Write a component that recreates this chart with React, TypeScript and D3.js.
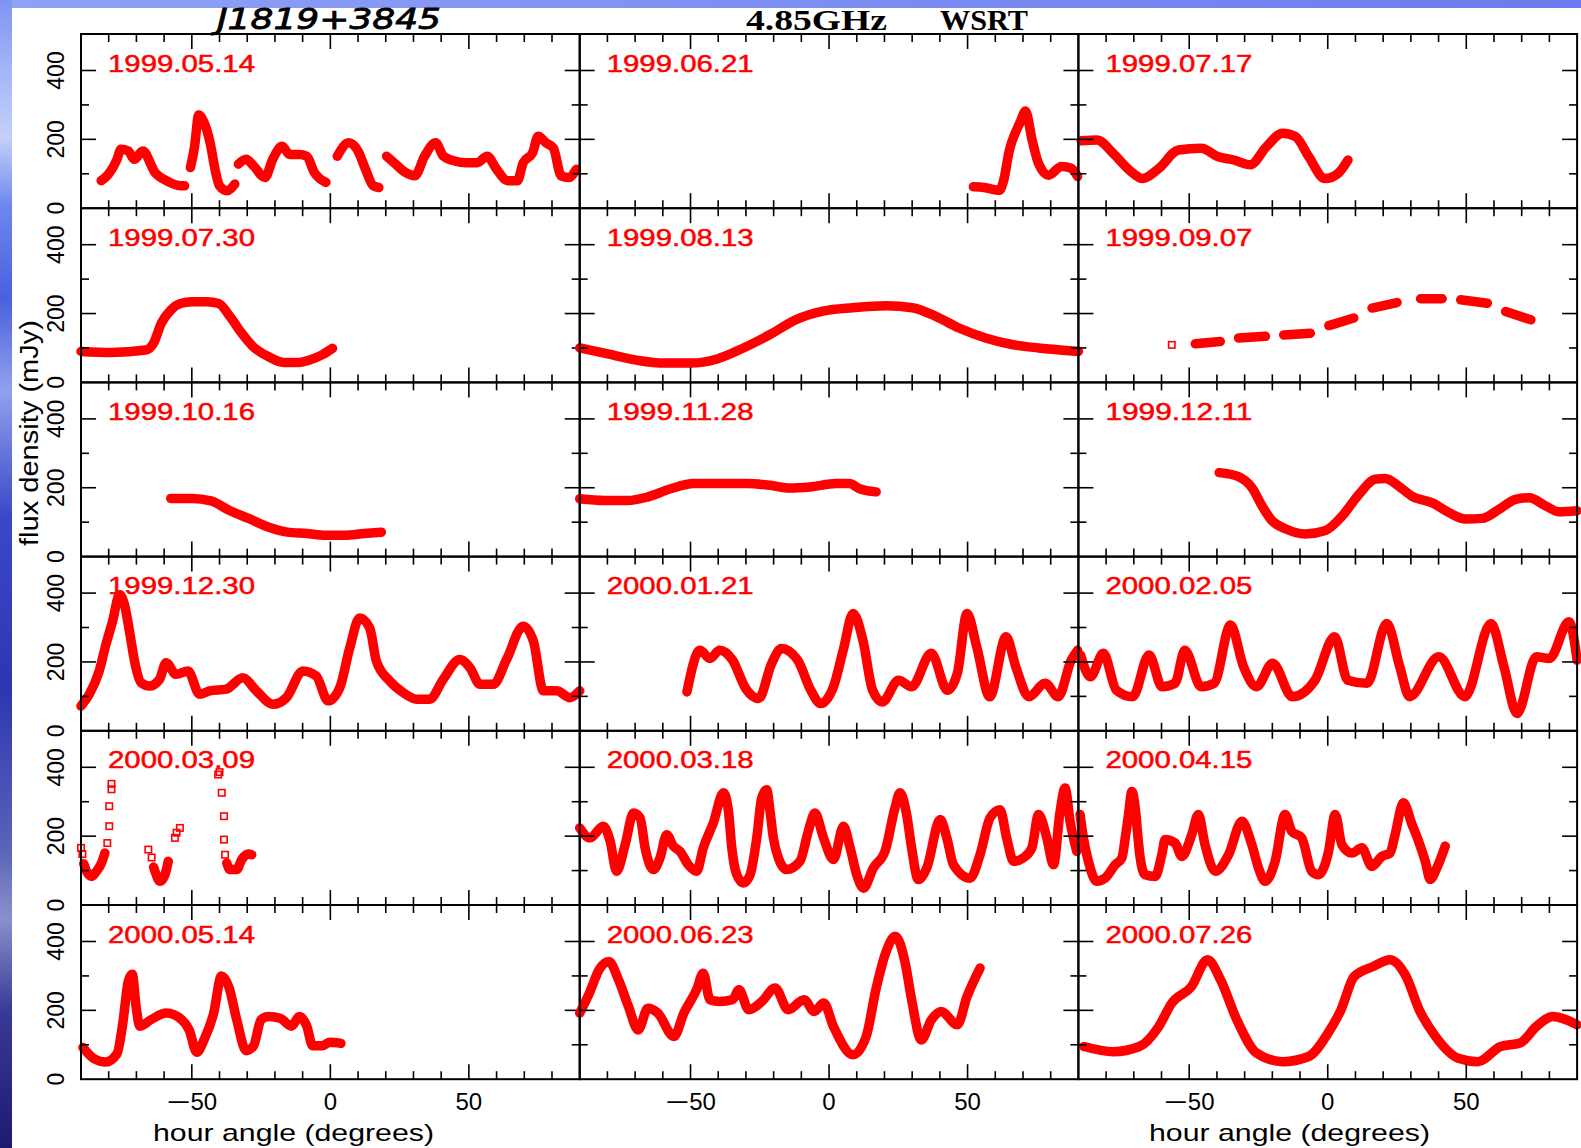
import React from 'react'
import * as d3 from 'd3'

// one point = [hour angle (deg), flux density (mJy)], null = gap in the track
type Pt = [number, number] | null

const DATES = [
  '1999.05.14', '1999.06.21', '1999.07.17',
  '1999.07.30', '1999.08.13', '1999.09.07',
  '1999.10.16', '1999.11.28', '1999.12.11',
  '1999.12.30', '2000.01.21', '2000.02.05',
  '2000.03.09', '2000.03.18', '2000.04.15',
  '2000.05.14', '2000.06.23', '2000.07.26',
]

const D_19990514: Pt[] = [
  [-82.7, 80], [-80, 100], [-77, 142], [-75.6, 171], [-72.9, 166], [-70.8, 142], [-67.7, 166], [-63.3, 104],
  [-59.2, 80], [-53.7, 65], [-52.6, 65], null,
  [-50.5, 118], [-49, 180], [-47.5, 271], [-45.5, 247], [-43.4, 190], [-41.4, 104], [-40, 65], [-37.3, 51], [-34.5, 70], null,
  [-33.2, 128], [-30.4, 142], [-27.7, 123], [-23.6, 89], [-20.8, 142], [-17.4, 180], [-14.7, 156], [-11.2, 156],
  [-8.5, 151], [-5.8, 104], [-1.6, 75], null,
  [2.5, 151], [6.6, 190], [10, 166], [12.7, 113], [15.5, 65], [17.5, 60], null,
  [20.3, 151], [23, 132], [27.1, 104], [30.5, 94], [34, 151], [38, 190], [40.8, 151], [44.9, 137], [49, 132],
  [53, 132], [56.6, 151], [60, 113], [64, 80], [67.5, 80], [69.6, 132], [73, 161], [75, 209], [77.8, 190],
  [80.5, 175], [83.3, 94], [86, 89], [88.8, 113],
]
const D_19990621: Pt[] = [
  [52.1, 62], [56, 60], [61.5, 52], [63, 80], [65.1, 169], [67.4, 222], [69, 250], [70.9, 282], [73.3, 198],
  [75.6, 130], [79.2, 96], [83.9, 121], [87.4, 116], [89.7, 92],
]
const D_19990717: Pt[] = [
  [-89, 196], [-83.3, 198], [-77.4, 159], [-71.5, 110], [-66.8, 86], [-60.9, 116], [-53.9, 169], [-45.6, 174],
  [-39.8, 150], [-33.9, 140], [-28, 126], [-22.1, 179], [-16.3, 218], [-11.6, 208], [-6.9, 150], [-1, 86],
  [3.7, 101], [7.3, 140],
]
const D_19990730: Pt[] = [
  [-90, 90], [-79, 87], [-66.6, 94], [-63.8, 114], [-61, 172], [-57.6, 210], [-54.1, 229], [-50, 234],
  [-44.5, 234], [-40.3, 229], [-36.2, 191], [-32, 143], [-27.9, 104], [-22.4, 75], [-16.9, 58], [-11.3, 58],
  [-7.2, 66], [-3, 80], [0.8, 99],
]
const D_19990813: Pt[] = [
  [-90, 100], [-81.1, 85], [-69.1, 64], [-59.6, 56], [-50, 56], [-40.4, 68], [-30.9, 100], [-21.3, 139],
  [-11.7, 183], [-2.2, 207], [8.6, 217], [20.6, 223], [30.1, 217], [38.5, 192], [46.9, 158], [56.5, 129],
  [66, 110], [75.6, 100], [90, 90],
]
const D_19990907: Pt[] = [
  [-47.8, 112], [-38.8, 119], null, [-32.2, 129], [-22.5, 134], null, [-15.9, 138], [-6.3, 143], null,
  [0.4, 165], [9.4, 187], null, [16, 216], [25, 232], null, [33.5, 243], [41.3, 243], null,
  [48, 240], [57.6, 230], null, [64.2, 206], [73.3, 182],
]
const D_19991016: Pt[] = [
  [-57.6, 169], [-50, 169], [-43.1, 162], [-36.2, 133], [-29.3, 110], [-22.4, 86], [-15.5, 71], [-8.6, 67],
  [-1.7, 62], [5.2, 62], [12.2, 67], [18.4, 71],
]
const D_19991128: Pt[] = [
  [-90, 168], [-81.1, 163], [-72.7, 163], [-65.6, 173], [-57.2, 197], [-48.8, 212], [-39.2, 212], [-29.7, 212],
  [-21.3, 207], [-14.1, 199], [-6.9, 202], [2.6, 212], [7.4, 212], [11, 197], [17, 188],
]
const D_19991211: Pt[] = [
  [-39.2, 244], [-32.2, 232], [-27.3, 199], [-23.7, 147], [-20.1, 104], [-15.3, 81], [-8.1, 66], [-0.8, 76],
  [5.2, 118], [11.2, 180], [17.2, 225], [20.8, 227], [25.7, 204], [30.5, 175], [37.7, 156], [43.7, 128],
  [49.8, 109], [55.8, 111], [61.8, 137], [67.8, 166], [72.7, 171], [78.7, 147], [83.5, 130], [90, 133],
]
const D_19991230: Pt[] = [
  [-90, 72], [-87, 106], [-83.4, 174], [-81, 251], [-78.6, 318], [-76.1, 395], [-74.3, 366], [-72.5, 289],
  [-70.7, 203], [-68.3, 140], [-65.3, 130], [-61.7, 149], [-59.3, 198], [-55.7, 164], [-51.4, 174], [-47.2, 106],
  [-43.6, 116], [-37.6, 121], [-31.6, 154], [-26.7, 116], [-20.7, 77], [-15.9, 96], [-9.9, 174], [-5.1, 159],
  [-0.8, 87], [3.4, 125], [7, 241], [10.6, 328], [14.2, 299], [16.6, 203], [21.4, 145], [26.3, 111],
  [31.1, 92], [35.9, 92], [40.7, 149], [46.7, 207], [50.4, 183], [54, 135], [58.8, 135], [63.6, 207],
  [69.6, 304], [73.3, 260], [76.9, 116], [81.7, 116], [86.5, 96], [90, 116],
]
const D_20000121: Pt[] = [
  [-51.3, 113], [-46.6, 234], [-43, 210], [-39.5, 234], [-34.8, 205], [-30.1, 123], [-25.4, 94], [-20.7, 196],
  [-17.2, 239], [-11.3, 205], [-6.6, 118], [-3.1, 79], [1.6, 128], [5.1, 234], [8.7, 341], [12.2, 264],
  [15.7, 118], [19.2, 84], [25.1, 147], [29.8, 128], [36.9, 225], [42.7, 118], [46.3, 167], [49.8, 341],
  [53.3, 244], [58, 99], [63.9, 273], [67.4, 186], [72.1, 99], [78, 138], [82.7, 99], [87.4, 205], [89.7, 234],
]
const D_20000205: Pt[] = [
  [-89.2, 220], [-85.7, 157], [-81, 225], [-76.3, 118], [-70.4, 99], [-64.5, 220], [-59.8, 128], [-55.1, 138],
  [-51.6, 234], [-45.7, 128], [-41, 138], [-35.1, 307], [-30.4, 186], [-25.7, 128], [-19.9, 196], [-12.8, 99],
  [-4.6, 147], [2.5, 273], [7.2, 147], [14.2, 138], [21.3, 312], [26, 186], [29.5, 99], [40.1, 215],
  [49.5, 99], [58.9, 312], [63.6, 186], [68.3, 50], [75.3, 215], [80, 210], [87.1, 317], [90, 205],
]
const D_20000309: Pt[] = [
  [-89, 120], [-88, 98], [-86.2, 83], [-84.4, 98], [-82.6, 122], [-81.4, 151], null,
  [-63.8, 110], [-63.3, 98], [-61.5, 69], [-59.7, 88], [-58.5, 127], null,
  [-37.4, 122], [-36.2, 103], [-33.8, 103], [-32, 132], [-29.6, 148], [-28.4, 146],
]
const D_20000318: Pt[] = [
  [-90, 224], [-86.3, 195], [-81.5, 229], [-79, 185], [-76.7, 98], [-73.6, 175], [-70.6, 267], [-68.2, 253],
  [-66.4, 166], [-63.4, 103], [-61, 137], [-58.6, 204], [-56.2, 171], [-53.8, 156], [-50.8, 117], [-47.8, 98],
  [-45.4, 166], [-41.8, 238], [-38.1, 326], [-36.3, 272], [-35.1, 166], [-33.3, 88], [-30.9, 64], [-28.5, 88],
  [-26.1, 195], [-24.3, 311], [-22.5, 335], [-21.3, 272], [-20.1, 195], [-18.3, 137], [-15.3, 103], [-10.5, 127],
  [-7.5, 214], [-5.1, 267], [-2, 195], [1.6, 132], [5.2, 229], [7.6, 166], [10, 88], [12.4, 49],
  [16, 108], [20.2, 156], [23.8, 282], [25.6, 326], [28, 263], [29.8, 166], [32.2, 74], [35.3, 108],
  [40.1, 248], [42.5, 195], [44.9, 117], [50.9, 78], [54.5, 146], [58.1, 253], [61.7, 277], [64.1, 195],
  [66.6, 127], [70.1, 137], [73.2, 166], [75.6, 263], [78.6, 195], [81, 117], [83.4, 272], [85.2, 340],
  [87, 243], [89.4, 156],
]
const D_20000415: Pt[] = [
  [-89.4, 263], [-88.2, 195], [-86.4, 127], [-83.4, 69], [-80.4, 78], [-76.7, 117], [-74.3, 137], [-73.1, 195],
  [-71.9, 263], [-70.7, 330], [-69.5, 282], [-68.3, 180], [-67.7, 137], [-65.9, 88], [-62.3, 83], [-59.9, 146],
  [-58.7, 190], [-55.1, 180], [-52.7, 141], [-49.1, 204], [-46.7, 263], [-44.3, 175], [-40.6, 98], [-35.8, 146],
  [-31, 243], [-27.4, 175], [-25, 108], [-22.6, 69], [-19, 127], [-15.4, 263], [-13, 214], [-9.4, 195],
  [-5.8, 98], [-3.3, 88], [0.3, 156], [2.7, 263], [5.1, 175], [8.7, 151], [12.3, 166], [15.9, 112],
  [19.5, 141], [22.5, 151], [24.3, 204], [27.3, 297], [30.4, 234], [32.8, 185], [35.2, 127], [37, 74],
  [39.4, 108], [42.4, 171],
]
const D_20000514: Pt[] = [
  [-89.3, 92], [-85.2, 59], [-81.1, 50], [-77, 74], [-74.9, 163], [-72.9, 286], [-71.5, 305], [-70.1, 210],
  [-68.8, 154], [-64.7, 173], [-59.2, 192], [-53.7, 173], [-51, 144], [-48.2, 78], [-45.5, 116], [-42.1, 192],
  [-39.3, 300], [-36.6, 267], [-33.8, 173], [-30.4, 83], [-27.7, 97], [-25, 173], [-22.2, 182], [-18.1, 177],
  [-14, 154], [-11.2, 182], [-8.5, 154], [-6.4, 97], [-3, 97], [-0.3, 107], [3.8, 104],
]
const D_20000623: Pt[] = [
  [-90, 192], [-86.5, 250], [-83, 318], [-79.5, 342], [-76, 289], [-72.4, 211], [-68.9, 143], [-65.4, 206],
  [-61.8, 192], [-56, 124], [-52.4, 192], [-47.8, 260], [-45.4, 308], [-43, 231], [-39.5, 226], [-34.8, 231],
  [-32.5, 260], [-29, 202], [-24.2, 226], [-19.5, 265], [-14.8, 202], [-9, 231], [-5.4, 197], [-1.9, 221],
  [1.6, 153], [8.7, 71], [13.4, 124], [16.9, 260], [20.4, 366], [23.9, 415], [27.5, 337], [29.8, 231],
  [33.3, 114], [36.9, 172], [40.4, 197], [46.3, 158], [49.8, 240], [54.5, 323],
]
const D_20000726: Pt[] = [
  [-88, 95], [-77.4, 80], [-68, 95], [-61, 153], [-56.3, 221], [-49.2, 269], [-43.4, 347], [-38.7, 289],
  [-32.8, 172], [-25.7, 76], [-16.3, 51], [-6.9, 66], [0.1, 134], [4.8, 202], [9.5, 298], [16.6, 328],
  [22.4, 347], [28.3, 298], [33, 202], [38.9, 124], [47.1, 61], [54.2, 51], [62.4, 95], [69.4, 105],
  [75.3, 153], [81.2, 182], [90, 158],
]

// isolated open symbols where the sampling is sparse
const M_19990907: [number, number][] = [[-56.3, 109]]
const M_20000309: [number, number][] = [
  [-90, 166], [-89.5, 148], [-80.5, 180], [-79.8, 229], [-79.8, 287], [-79, 336], [-79, 352],
  [-65.7, 161], [-64.5, 138], [-56.1, 195], [-55.5, 210], [-54.3, 224],
  [-40.5, 379], [-40, 386], [-39.2, 326], [-38.4, 258], [-38.4, 190], [-38, 146],
]

const CURVES: Pt[][] = [
  D_19990514, D_19990621, D_19990717, D_19990730, D_19990813, D_19990907,
  D_19991016, D_19991128, D_19991211, D_19991230, D_20000121, D_20000205,
  D_20000309, D_20000318, D_20000415, D_20000514, D_20000623, D_20000726,
]
const MARKS: Record<number, [number, number][]> = { 5: M_19990907, 12: M_20000309 }

const X_TICKS = d3.range(-80, 81, 10)
const Y_TICKS = [100, 200, 300, 400]
const Y_LABELS = [0, 200, 400]
const X_LABELS = [-50, 0, 50]

const W = 1581
const H = 1148
const LEFT = 81
const COL_W = 498.7
const TOP = 34
const ROW_H = 174.2
const SANS = "'Liberation Sans', Arial, sans-serif"
const RED = '#ff0000'

const Panel: React.FC<{ i: number }> = ({ i }) => {
  const col = i % 3
  const row = Math.floor(i / 3)
  const x0 = LEFT + col * COL_W
  const y0 = TOP + row * ROW_H
  const x = d3.scaleLinear().domain([-90, 90]).range([x0, x0 + COL_W])
  const y = d3.scaleLinear().domain([0, 506]).range([y0 + ROW_H, y0])
  const line = d3.line<Pt>()
    .defined(d => d !== null)
    .x(d => x((d as [number, number])[0]))
    .y(d => y((d as [number, number])[1]))
    .curve(d3.curveMonotoneX)
  const marks = MARKS[i] || []

  return (
    <g>
      <path d={line(CURVES[i]) || ''} fill="none" stroke={RED} strokeWidth={9.5}
        strokeLinejoin="round" strokeLinecap="round" />
      {marks.map((m, k) => (
        <rect key={k} x={x(m[0]) - 3.2} y={y(m[1]) - 3.2} width={6.4} height={6.4}
          fill="none" stroke={RED} strokeWidth={1.6} />
      ))}
      <text x={x0 + 27} y={y0 + 37.5} fill={RED} stroke={RED} strokeWidth={0.5}
        fontFamily={SANS} fontSize={24} textLength={147} lengthAdjust="spacingAndGlyphs">
        {DATES[i]}
      </text>
      <rect x={x0} y={y0} width={COL_W} height={ROW_H} fill="none" stroke="#000" strokeWidth={2} />
      {X_TICKS.map(t => {
        const len = t % 50 === 0 ? 15 : 8
        return (
          <g key={'x' + t} stroke="#000" strokeWidth={1.6}>
            <line x1={x(t)} x2={x(t)} y1={y0} y2={y0 + len} />
            <line x1={x(t)} x2={x(t)} y1={y0 + ROW_H} y2={y0 + ROW_H - len} />
          </g>
        )
      })}
      {Y_TICKS.map(t => {
        const len = t % 200 === 0 ? 15 : 8
        return (
          <g key={'y' + t} stroke="#000" strokeWidth={1.6}>
            <line x1={x0} x2={x0 + len} y1={y(t)} y2={y(t)} />
            <line x1={x0 + COL_W} x2={x0 + COL_W - len} y1={y(t)} y2={y(t)} />
          </g>
        )
      })}
      {col === 0 && Y_LABELS.map(t => (
        <text key={'yl' + t} transform={`translate(56,${y(t)}) rotate(-90)`} dy="0.36em"
          textAnchor="middle" fontFamily={SANS} fontSize={23} fill="#000">{t}</text>
      ))}
      {row === 5 && X_LABELS.map(t => (
        <text key={'xl' + t} x={x(t)} y={1110} textAnchor="middle" fontFamily={SANS} fontSize={24} fill="#000">
          {t < 0 ? <><tspan textLength={24} lengthAdjust="spacingAndGlyphs">−</tspan><tspan>{Math.abs(t)}</tspan></> : t}
        </text>
      ))}
    </g>
  )
}

export default function App() {
  return (
    <svg width={W} height={H} style={{ position: 'absolute', left: 0, top: 0, background: '#fff' }}>
      <defs>
        <linearGradient id="sideBlue" x1="0" y1="0" x2="0" y2="1">
          <stop offset="0" stopColor="#7d94f3" />
          <stop offset="0.06" stopColor="#a3b5f6" />
          <stop offset="0.12" stopColor="#c4d0f8" />
          <stop offset="0.18" stopColor="#6d86ee" />
          <stop offset="0.26" stopColor="#4a60de" />
          <stop offset="0.34" stopColor="#8fa2ec" />
          <stop offset="0.45" stopColor="#3a48c8" />
          <stop offset="0.6" stopColor="#2d36b0" />
          <stop offset="0.74" stopColor="#5a64b8" />
          <stop offset="0.8" stopColor="#8a90cc" />
          <stop offset="0.88" stopColor="#3a3a98" />
          <stop offset="1" stopColor="#1c1a70" />
        </linearGradient>
        <linearGradient id="topBlue" x1="0" y1="0" x2="1" y2="0">
          <stop offset="0" stopColor="#8fa2f5" />
          <stop offset="1" stopColor="#6a7cef" />
        </linearGradient>
      </defs>
      <rect x={0} y={0} width={W} height={8} fill="url(#topBlue)" />
      <rect x={0} y={0} width={12} height={H} fill="url(#sideBlue)" />

      <text x={217} y={29} fontFamily="'DejaVu Sans', sans-serif" fontStyle="italic"
        stroke="#000" strokeWidth={0.8}
        fontSize={28} textLength={224} lengthAdjust="spacingAndGlyphs">J1819+3845</text>
      <text x={746} y={30} fontFamily="'Liberation Serif', serif" fontWeight="bold"
        fontSize={30} textLength={141} lengthAdjust="spacingAndGlyphs">4.85GHz</text>
      <text x={940} y={30} fontFamily="'Liberation Serif', serif" fontWeight="bold"
        fontSize={30} textLength={88} lengthAdjust="spacingAndGlyphs">WSRT</text>

      {DATES.map((_, i) => <Panel key={i} i={i} />)}

      <text transform="translate(38,433) rotate(-90)" textAnchor="middle" fontFamily={SANS}
        fontSize={25} textLength={226} lengthAdjust="spacingAndGlyphs">flux density (mJy)</text>
      <text x={293.5} y={1141} textAnchor="middle" fontFamily={SANS} fontSize={24}
        textLength={281} lengthAdjust="spacingAndGlyphs">hour angle (degrees)</text>
      <text x={1289.5} y={1141} textAnchor="middle" fontFamily={SANS} fontSize={24}
        textLength={281} lengthAdjust="spacingAndGlyphs">hour angle (degrees)</text>
    </svg>
  )
}
